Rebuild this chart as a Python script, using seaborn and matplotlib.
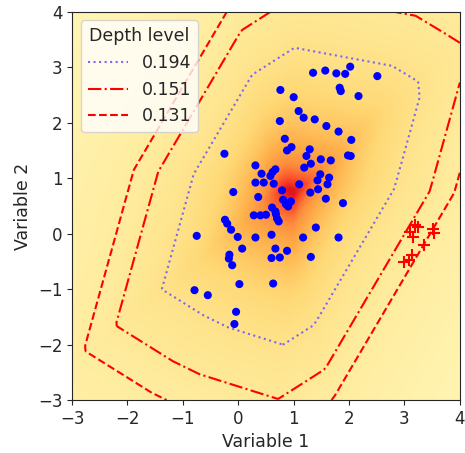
import numpy as np
import pandas as pd
import matplotlib
matplotlib.use("Agg")
import matplotlib.pyplot as plt
from matplotlib.lines import Line2D
import seaborn as sns

# Main sample (Variable 1, Variable 2)
var1 = [1.35, 1.57, 1.77, 1.93, 2.02, 2.51, 0.76, 1.83, 1.85, 2.17,
        1.00, 1.09, 1.18, 1.38, 0.75, 1.59, 1.81, 2.04, 0.84, 0.96,
        0.88, 1.29, 1.23, 1.98, 2.03, -0.25, 1.49, 1.67, 1.31, 1.19,
        0.31, 0.67, 0.62, 0.42, 0.58, 1.48, 1.64, 0.31, 0.46, 0.64,
        1.43, 1.61, 1.10, 1.44, 1.30, 0.79, -0.09, 0.36, 1.58, 0.81,
        0.95, 0.86, 0.90, 1.89, 0.61, 0.67, 0.28, 0.40, 0.50, 0.68,
        0.70, 0.73, -0.24, -0.20, -0.13, 1.40, -0.75, -0.01, 0.31, 0.60,
        1.17, 1.81, 0.07, 0.67, 0.88, -0.16, -0.17, -0.11, 0.60, 0.75,
        1.31, 0.02, 0.63, -0.79, -0.55, -0.04, -0.07]
var2 = [2.90, 2.94, 2.89, 2.88, 3.01, 2.84, 2.59, 2.63, 2.57, 2.48,
        2.46, 2.21, 2.09, 2.06, 2.03, 1.94, 1.84, 1.69, 1.71, 1.56,
        1.50, 1.52, 1.40, 1.41, 1.40, 1.44, 1.34, 1.32, 1.26, 1.19,
        1.23, 1.16, 1.11, 1.08, 1.04, 1.07, 1.01, 0.92, 0.92, 0.90,
        0.96, 0.89, 0.89, 0.80, 0.74, 0.78, 0.75, 0.66, 0.63, 0.61,
        0.58, 0.53, 0.49, 0.55, 0.47, 0.40, 0.33, 0.33, 0.34, 0.35,
        0.27, 0.22, 0.25, 0.18, 0.07, 0.11, -0.04, -0.06, -0.07, -0.02,
        -0.07, -0.07, -0.27, -0.27, -0.31, -0.38, -0.45, -0.57, -0.44, -0.43,
        -0.42, -0.91, -0.90, -1.02, -1.11, -1.41, -1.63]

# Contaminating cluster
out1 = [3.19, 3.25, 3.10, 3.16, 3.52, 3.54, 3.36, 3.14, 3.09, 2.99]
out2 = [0.15, 0.12, 0.03, -0.06, 0.09, 0.02, -0.21, -0.38, -0.48, -0.51]

depth_levels = [0.131, 0.151, 0.194]
level_styles = {0.194: (":", "mediumslateblue"),
                0.151: ("-.", "red"),
                0.131: ("--", "red")}

clean = pd.DataFrame({"Variable 1": var1, "Variable 2": var2})
outliers = pd.DataFrame({"Variable 1": out1, "Variable 2": out2})
X = np.vstack([clean.to_numpy(), outliers.to_numpy()])


def projection_depth(points, n_grid, n_dir=360):
    """Projection depth 1 / (1 + outlyingness) on a square grid over [-3, 4]."""
    g = np.linspace(-3, 4, n_grid)
    GX, GY = np.meshgrid(g, g)
    outly = np.zeros_like(GX)
    for a in np.linspace(0, np.pi, n_dir, endpoint=False):
        u = np.array([np.cos(a), np.sin(a)])
        p = points @ u
        med = np.median(p)
        mad = np.median(np.abs(p - med))
        outly = np.maximum(outly, np.abs(GX * u[0] + GY * u[1] - med) / mad)
    return GX, GY, 1.0 / (1.0 + outly)


# coarse grid for the shaded surface, fine grid for the level curves
_, _, depth_img = projection_depth(X, 71)
GX, GY, depth = projection_depth(X, 281)

sns.set_style("ticks")
plt.rcParams["font.family"] = ["DejaVu Sans"]
plt.rcParams["font.size"] = 12

fig = plt.figure(figsize=(4.65, 4.53), dpi=100)
ax = fig.add_axes([0.155, 0.117, 0.834, 0.857])

ax.imshow(depth_img, extent=(-3.05, 4.05, -3.05, 4.05), origin="lower",
          cmap="YlOrRd", vmin=0, vmax=1, aspect="auto",
          interpolation="bilinear")

handles = []
for lev in sorted(depth_levels, reverse=True):
    ls, col = level_styles[lev]
    ax.contour(GX, GY, depth, levels=[lev], colors=[col],
               linestyles=[ls], linewidths=1.5)
    handles.append(Line2D([], [], color=col, linestyle=ls, linewidth=1.5,
                          label=f"{lev:.3f}"))

sns.scatterplot(data=clean, x="Variable 1", y="Variable 2", ax=ax,
                color="blue", s=34, edgecolor="none", zorder=3)
sns.scatterplot(data=outliers, x="Variable 1", y="Variable 2", ax=ax,
                color="red", marker="+", s=70, linewidth=1.5, zorder=3)

ax.set_xlim(-3, 4)
ax.set_ylim(-3, 4)
ax.set_xticks(range(-3, 5))
ax.set_yticks(range(-3, 5))
ax.tick_params(labelsize=12)
ax.set_xlabel("Variable 1", fontsize=12.5)
ax.set_ylabel("Variable 2", fontsize=12.5)
ax.legend(handles=handles, title="Depth level", loc="upper left",
          fontsize=12.5, title_fontsize=12.5, framealpha=0.8,
          handlelength=2.3)

fig.savefig("out.png", dpi=100)
